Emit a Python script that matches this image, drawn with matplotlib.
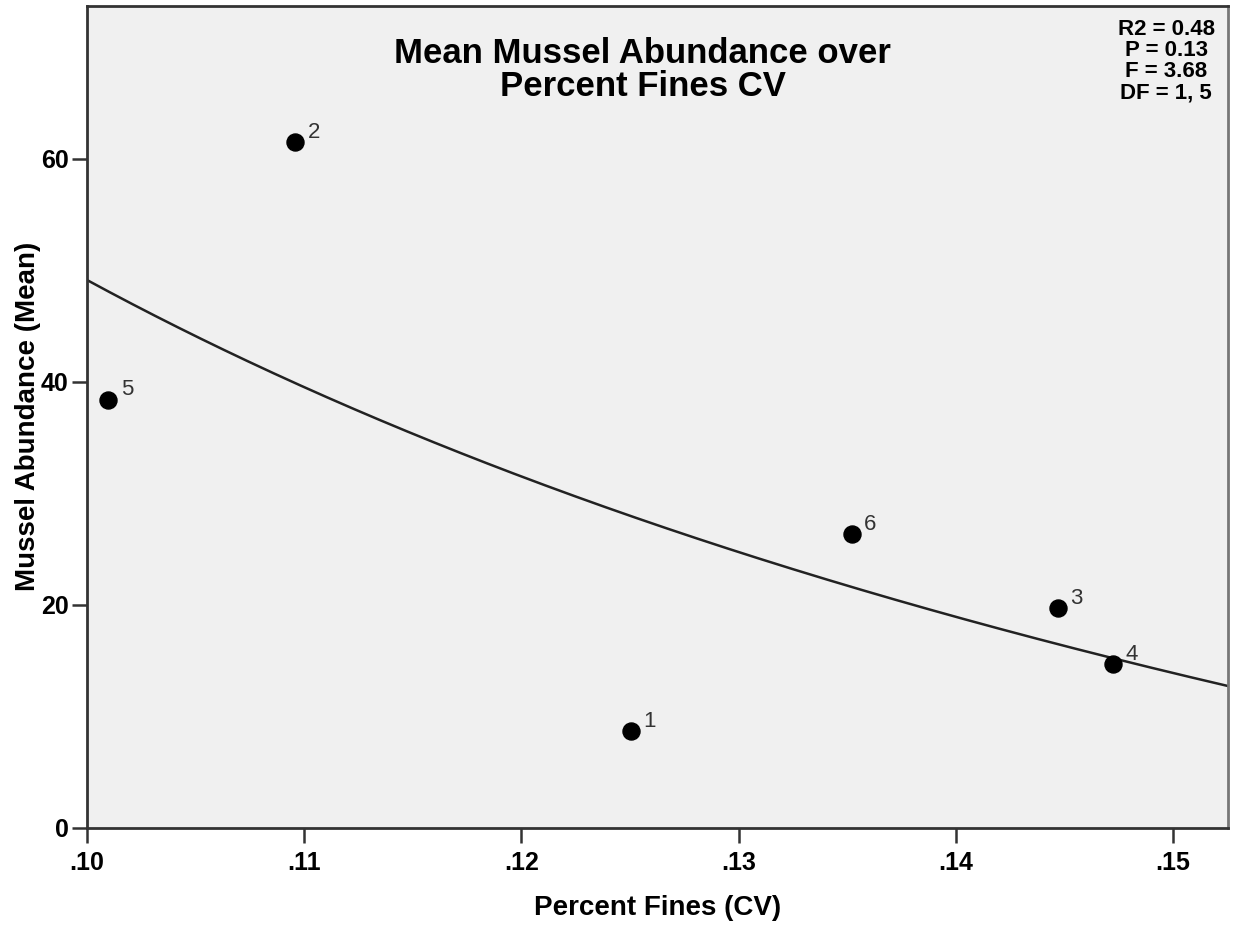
from __future__ import annotations

import numpy as np
import matplotlib

matplotlib.use("Agg")
import matplotlib.pyplot as plt


# Site points
SITE_LABELS = ["1", "2", "3", "4", "5", "6"]
PERCENT_FINES_CV = [0.12505, 0.10959, 0.14468, 0.14724, 0.10099, 0.13520]
MUSSEL_MEAN = [8.7, 61.5, 19.7, 14.7, 38.4, 26.3]

# Inverse curve fit: y = a + b / x
FIT_A = -56.66
FIT_B = 10.58

STATS_LINES = ["R2 = 0.48", "P = 0.13", "F = 3.68", "DF = 1, 5"]

X_TICKS = [0.10, 0.11, 0.12, 0.13, 0.14, 0.15]
X_TICK_LABELS = [".10", ".11", ".12", ".13", ".14", ".15"]
Y_TICKS = [0, 20, 40, 60]

X_LIM = (0.10, 0.15252)
Y_LIM = (0, 73.7)


def main() -> None:
    plt.rcParams["font.family"] = ["Liberation Sans", "DejaVu Sans"]

    fig = plt.figure(figsize=(12.33, 9.25), dpi=100)
    ax = fig.add_axes([0.0703, 0.1052, 0.9256, 0.8883])
    ax.set_facecolor("#f0f0f0")

    # fit line
    xs = np.linspace(X_LIM[0], X_LIM[1], 300)
    ax.plot(xs, FIT_A + FIT_B / xs, color="#222222", lw=1.8, zorder=2)

    # points + labels
    ax.scatter(PERCENT_FINES_CV, MUSSEL_MEAN, s=150, color="black", zorder=3)
    for lab, x, y in zip(SITE_LABELS, PERCENT_FINES_CV, MUSSEL_MEAN):
        ax.annotate(lab, (x, y), xytext=(9, 3), textcoords="offset points",
                    fontsize=16, color="#333333", zorder=4)

    ax.set_xlim(*X_LIM)
    ax.set_ylim(*Y_LIM)
    ax.set_xticks(X_TICKS)
    ax.set_xticklabels(X_TICK_LABELS)
    ax.set_yticks(Y_TICKS)
    ax.tick_params(axis="both", direction="out", length=11, width=1.8,
                   color="#333333", labelsize=18)
    ax.tick_params(axis="x", pad=6)
    ax.tick_params(axis="y", pad=2)
    for lbl in ax.get_xticklabels() + ax.get_yticklabels():
        lbl.set_fontweight("bold")

    for side in ["left", "bottom", "top"]:
        ax.spines[side].set_color("#333333")
        ax.spines[side].set_linewidth(2.0)
    ax.spines["right"].set_color("#777777")
    ax.spines["right"].set_linewidth(2.0)

    ax.set_xlabel("Percent Fines (CV)", fontsize=20, fontweight="bold", labelpad=14)
    ax.set_ylabel("Mussel Abundance (Mean)", fontsize=20, fontweight="bold", labelpad=0)

    ax.text(0.487, 0.922, "Mean Mussel Abundance over\nPercent Fines CV",
            transform=ax.transAxes, ha="center", va="center", fontsize=25,
            fontweight="bold", linespacing=1.0)

    ax.text(0.9885, 0.984, "\n".join(STATS_LINES), transform=ax.transAxes,
            ha="right", va="top", fontsize=16, fontweight="bold",
            multialignment="center", linespacing=1.0)

    fig.savefig("out.png", dpi=100)
    plt.close(fig)


if __name__ == "__main__":
    main()
